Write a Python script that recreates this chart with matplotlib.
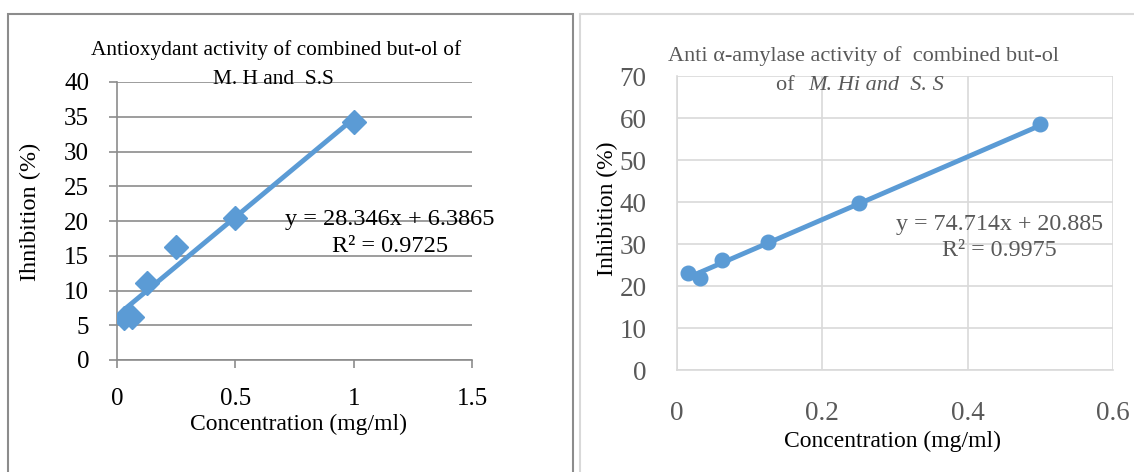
import numpy as np
import matplotlib
matplotlib.use("Agg")
import matplotlib.pyplot as plt
from matplotlib.patches import Rectangle

plt.rcParams['font.family'] = ['Liberation Serif', 'DejaVu Serif']

# antioxidant data (left)
conc_ax = [0.03125, 0.0625, 0.125, 0.25, 0.5, 1.0]
inhib_ax = [6.0, 6.2, 11.1, 16.3, 20.4, 34.2]
slope_ax, icpt_ax = 28.346, 6.3865

# anti alpha-amylase data (right)
conc_am = [0.015625, 0.03125, 0.0625, 0.125, 0.25, 0.5]
inhib_am = [23.2, 22.0, 26.2, 30.5, 39.8, 58.5]
slope_am, icpt_am = 74.714, 20.885

W, H = 1134, 472
blue = '#5B9BD5'
grey_txt = '#595959'

fig = plt.figure(figsize=(W / 100, H / 100), dpi=100)


def fx(x):
    return x / W


def fy(y):
    return 1 - y / H


def box(x0, x1, ytop, ybot):
    return [fx(x0), fy(ybot), fx(x1) - fx(x0), fy(ytop) - fy(ybot)]


# panel frames
fig.patches.append(Rectangle((fx(8), fy(474)), fx(573) - fx(8), fy(14) - fy(474),
                             transform=fig.transFigure, fill=False,
                             edgecolor='#8c8c8c', lw=1.5))
fig.patches.append(Rectangle((fx(580), fy(474)), fx(1140) - fx(580), fy(14) - fy(474),
                             transform=fig.transFigure, fill=False,
                             edgecolor='#d9d9d9', lw=1.5))

# ---- left chart
ax1 = fig.add_axes(box(117, 472, 82, 360))
ax1.set_xlim(0, 1.5)
ax1.set_ylim(0, 40)
ax1.set_xticks([0, 0.5, 1, 1.5])
ax1.set_xticklabels(['0', '0.5', '1', '1.5'])
ax1.set_yticks(range(0, 45, 5))
ax1.yaxis.grid(True, color='#8c8c8c', lw=1.2)
ax1.set_axisbelow(True)
for s in ['top', 'right']:
    ax1.spines[s].set_visible(False)
for s in ['left', 'bottom']:
    ax1.spines[s].set_color('#8c8c8c')
    ax1.spines[s].set_linewidth(1.2)
ax1.tick_params(direction='out', length=6, width=1.2, color='#8c8c8c',
                labelsize=18, labelcolor='black', pad=14)
ax1.plot(conc_ax, inhib_ax, 'D', color=blue, ms=12.5, zorder=3)
xs = np.array([min(conc_ax), max(conc_ax)])
ax1.plot(xs, slope_ax * xs + icpt_ax, color=blue, lw=3.5, zorder=4,
         solid_capstyle='butt')

fig.text(fx(276), fy(50), 'Antioxydant activity of combined but-ol of',
         ha='center', va='center', fontsize=15.4)
fig.text(fx(273), fy(80), 'M. H and  S.S', ha='center', va='center', fontsize=15.4)
fig.text(fx(298), fy(424), 'Concentration (mg/ml)', ha='center', va='center', fontsize=17)
fig.text(fx(30), fy(212), 'Ihnibition (%)', ha='center', va='center',
         rotation=90, fontsize=17.5)
fig.text(fx(285), fy(220), 'y = 28.346x + 6.3865', ha='left', va='center', fontsize=17.5)
fig.text(fx(332), fy(246), 'R² = 0.9725', ha='left', va='center', fontsize=17.5)

# ---- right chart
ax2 = fig.add_axes(box(677, 1113, 76, 370))
ax2.set_xlim(0, 0.6)
ax2.set_ylim(0, 70)
ax2.set_xticks([0, 0.2, 0.4, 0.6])
ax2.set_xticklabels(['0', '0.2', '0.4', '0.6'])
ax2.set_yticks(range(0, 80, 10))
ax2.grid(True, color='#d9d9d9', lw=1.2)
ax2.set_axisbelow(True)
for s in ['top', 'right']:
    ax2.spines[s].set_visible(False)
for s in ['left', 'bottom']:
    ax2.spines[s].set_color('#d9d9d9')
    ax2.spines[s].set_linewidth(1.2)
ax2.tick_params(length=0, labelsize=19.5, labelcolor=grey_txt, pad=22)
ax2.plot(conc_am, inhib_am, 'o', color=blue, ms=10.5, zorder=3)
xs = np.array([min(conc_am), max(conc_am)])
ax2.plot(xs, slope_am * xs + icpt_am, color=blue, lw=3.5, zorder=4,
         solid_capstyle='butt')

fig.text(fx(863), fy(56), 'Anti α-amylase activity of  combined but-ol',
         ha='center', va='center', fontsize=16, color=grey_txt)
fig.text(fx(800), fy(85), 'of ', ha='right', va='center', fontsize=16, color=grey_txt)
fig.text(fx(808), fy(85), 'M. Hi and  S. S', ha='left', va='center', fontsize=16,
         color=grey_txt, style='italic')
fig.text(fx(893), fy(441), 'Concentration (mg/ml)', ha='center', va='center', fontsize=17)
fig.text(fx(607), fy(209), 'Inhibition (%)', ha='center', va='center',
         rotation=90, fontsize=17)
fig.text(fx(896), fy(225), 'y = 74.714x + 20.885', ha='left', va='center',
         fontsize=17.3, color=grey_txt)
fig.text(fx(942), fy(251), 'R² = 0.9975', ha='left', va='center',
         fontsize=17.3, color=grey_txt)

fig.savefig('out.png', dpi=100)
